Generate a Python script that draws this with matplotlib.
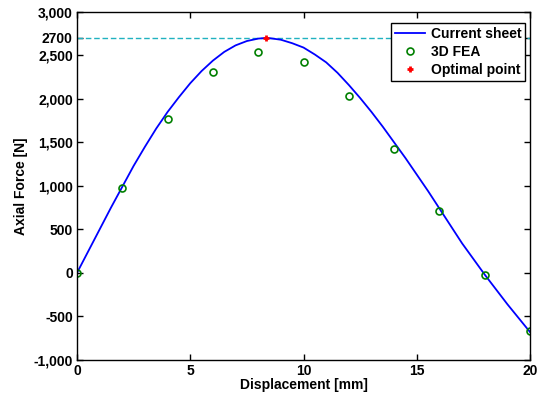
import numpy as np
import matplotlib.pyplot as plt
from matplotlib.ticker import FuncFormatter

# Current sheet model curve
sheet_x = [0, 0.5, 1, 1.5, 2, 2.5, 3, 3.5, 4, 4.5, 5, 5.5, 6, 6.5, 7, 7.5, 8, 8.34,
           8.5, 9, 9.5, 10, 10.5, 11, 11.5, 12, 12.5, 13, 13.5, 14, 14.5, 15, 15.5,
           16, 16.5, 17, 17.5, 18, 18.5, 19, 19.5, 20]
sheet_f = [0, 250, 500, 750, 990, 1230, 1450, 1660, 1850, 2020, 2180, 2320, 2440,
           2540, 2615, 2665, 2693, 2700, 2698, 2680, 2640, 2590, 2510, 2420, 2300,
           2160, 2010, 1850, 1680, 1500, 1320, 1130, 940, 740, 540, 340, 160, -20,
           -190, -360, -520, -680]

# 3D FEA results
fea_x = [0, 2, 4, 6, 8, 10, 12, 14, 16, 18, 20]
fea_f = [0, 977, 1766, 2307, 2540, 2422, 2031, 1430, 717, -26, -670]

# optimal point
opt_x = 8.34
opt_f = 2700

yticks = [-1000, -500, 0, 500, 1000, 1500, 2000, 2500, 2700, 3000]

plt.rcParams['font.family'] = ['Liberation Sans', 'DejaVu Sans']
plt.rcParams['font.weight'] = 'bold'

fig = plt.figure(figsize=(5.42, 3.96), dpi=100)
ax = fig.add_axes([0.142, 0.091, 0.836, 0.879])

ax.axhline(opt_f, color='#20b2c0', linestyle='--', linewidth=1.0, dashes=(4, 2))
ax.plot(sheet_x, sheet_f, color='#0000ff', linewidth=1.3, label='Current sheet')
ax.plot(fea_x, fea_f, linestyle='none', marker='o', markersize=5, markerfacecolor='none',
        markeredgecolor='#008000', markeredgewidth=1.2, label='3D FEA')
ax.plot(opt_x, opt_f, linestyle='none', marker='+', markersize=5, markeredgewidth=2,
        color='#ff0000', label='Optimal point')

ax.set_xlim(0, 20)
ax.set_ylim(-1000, 3000)
ax.set_xticks([0, 5, 10, 15, 20])
ax.set_yticks(yticks)


def fmt(v, pos):
    if v == 2700:
        return '2700'
    return '{:,.0f}'.format(v)


ax.yaxis.set_major_formatter(FuncFormatter(fmt))
ax.tick_params(direction='in', top=True, right=True, labelsize=10, length=4, width=1, pad=3)
for lab in ax.get_xticklabels() + ax.get_yticklabels():
    lab.set_fontweight('bold')
for s in ax.spines.values():
    s.set_linewidth(1.0)

ax.set_xlabel('Displacement [mm]', fontsize=10, fontweight='bold', labelpad=0)
ax.set_ylabel('Axial Force [N]', fontsize=10, fontweight='bold', labelpad=4)

leg = ax.legend(loc='upper right', bbox_to_anchor=(0.989, 0.967), borderaxespad=0,
                fontsize=10, frameon=True, fancybox=False,
                handlelength=2.2, borderpad=0.25, labelspacing=0.3,
                handletextpad=0.4)
leg.get_frame().set_edgecolor('black')
leg.get_frame().set_linewidth(1.0)
leg.get_frame().set_alpha(1)
for t in leg.get_texts():
    t.set_fontweight('bold')

fig.savefig('out.png', dpi=100)
